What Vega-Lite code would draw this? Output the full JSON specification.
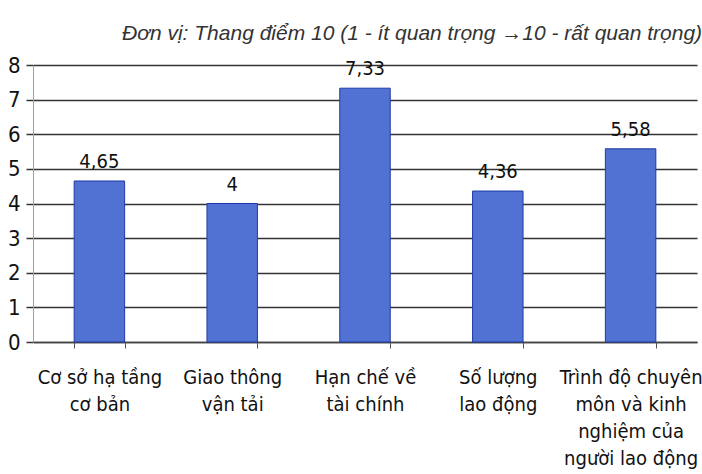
{
  "$schema": "https://vega.github.io/schema/vega-lite/v6.json",
  "autosize": "none",
  "width": 664,
  "height": 277,
  "padding": {"left": 33, "top": 65, "right": 5, "bottom": 132},
  "background": "white",
  "config": {
    "locale": {
      "number": {"decimal": ",", "thousands": ".", "grouping": [3], "currency": ["", ""]}
    },
    "view": {"stroke": null},
    "font": "DejaVu Sans Condensed, Liberation Sans Narrow, sans-serif"
  },
  "title": {
    "text": "Đơn vị: Thang điểm 10 (1 - ít quan trọng →10 - rất quan trọng)",
    "anchor": "end",
    "font": "Liberation Sans, Arial, sans-serif",
    "fontSize": 21,
    "fontStyle": "italic",
    "fontWeight": "normal",
    "color": "#333333",
    "offset": 10
  },
  "data": {
    "values": [
      {"criterion": "Cơ sở hạ tầng|cơ bản", "score": 4.65},
      {"criterion": "Giao thông|vận tải", "score": 4},
      {"criterion": "Hạn chế về|tài chính", "score": 7.33},
      {"criterion": "Số lượng|lao động", "score": 4.36},
      {"criterion": "Trình độ chuyên|môn và kinh|nghiệm của|người lao động", "score": 5.58}
    ]
  },
  "encoding": {
    "x": {
      "field": "criterion",
      "type": "nominal",
      "sort": null,
      "scale": {"paddingInner": 0.62, "paddingOuter": 0.31},
      "axis": {
        "title": null,
        "labelAngle": 0,
        "labelExpr": "split(datum.label, '|')",
        "labelFontSize": 20,
        "labelColor": "#111111",
        "labelPadding": 19,
        "labelLineHeight": 27,
        "labelBaseline": "top",
        "tickBand": "extent",
        "ticks": true,
        "tickSize": 6,
        "tickColor": "#555555",
        "domainColor": "#444444",
        "domainWidth": 1.5,
        "grid": false
      }
    },
    "y": {
      "field": "score",
      "type": "quantitative",
      "scale": {"domain": [0, 8], "nice": false},
      "axis": {
        "title": null,
        "values": [0, 1, 2, 3, 4, 5, 6, 7, 8],
        "labelFontSize": 22,
        "labelColor": "#111111",
        "labelPadding": 6,
        "tickSize": 7,
        "tickColor": "#333333",
        "tickWidth": 1.5,
        "domainColor": "#9aa0b0",
        "grid": true,
        "gridColor": "#333333",
        "gridWidth": 1.5
      }
    }
  },
  "layer": [
    {
      "mark": {"type": "bar", "color": "#5172d2", "stroke": "#1f3aa8", "strokeWidth": 1}
    },
    {
      "mark": {"type": "text", "baseline": "bottom", "dy": -9, "fontSize": 20, "color": "#111111"},
      "encoding": {
        "text": {"field": "score", "type": "quantitative", "format": "~r"}
      }
    }
  ]
}
